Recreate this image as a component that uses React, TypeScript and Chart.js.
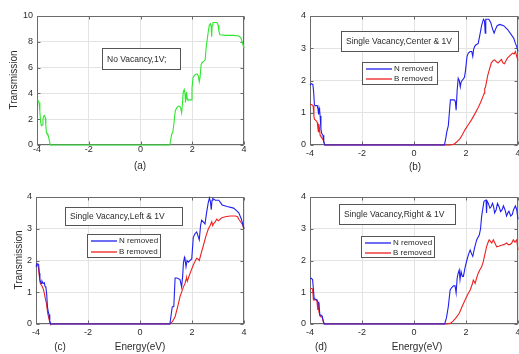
import { useEffect, useRef } from "react";
import { Chart, registerables } from "chart.js";

Chart.register(...registerables);

const PAGE_W = 519;
const PAGE_H = 354;
const FONT = '"Liberation Sans", Arial, Helvetica, sans-serif';
const TEXT_COLOR = "#2b2b2b";

// ---- Transmission spectra (energy in eV) ----

// (a) pristine ribbon, no vacancy
const energyA = [-4, -3.96, -3.92, -3.89, -3.86, -3.83, -3.8, -3.77, -3.74, -3.71, -3.68, -3.66, -3.64, -3.62, -3.58, -3.55, -3.52, -3.49, -3.47, 1.13, 1.16, 1.2, 1.25, 1.3, 1.34, 1.38, 1.45, 1.52, 1.56, 1.59, 1.62, 1.65, 1.69, 1.72, 1.74, 1.76, 1.78, 1.8, 1.83, 1.9, 1.96, 1.99, 2.03, 2.08, 2.15, 2.2, 2.24, 2.27, 2.3, 2.34, 2.38, 2.45, 2.5, 2.54, 2.58, 2.62, 2.66, 2.7, 2.73, 2.75, 2.77, 2.8, 2.85, 2.95, 3.0, 3.03, 3.07, 3.3, 3.6, 3.8, 3.88, 3.93, 4.0];
const transA = [3.5, 3.45, 3.3, 2.6, 1.8, 1.5, 1.55, 2.0, 2.25, 2.3, 2.1, 1.6, 1.0, 0.9, 0.85, 0.6, 0.3, 0.05, 0, 0, 0.3, 0.8, 1.0, 1.8, 2.6, 2.8, 3.0, 3.0, 2.8, 2.5, 3.2, 4.1, 4.3, 4.0, 3.3, 3.7, 4.1, 3.6, 3.5, 3.5, 3.5, 4.4, 5.2, 5.4, 5.5, 5.5, 5.3, 4.9, 5.2, 6.2, 6.4, 6.5, 6.6, 7.6, 8.2, 8.8, 9.3, 9.4, 9.2, 8.4, 9.3, 9.5, 9.5, 9.5, 9.3, 8.8, 8.55, 8.5, 8.5, 8.45, 8.3, 8.0, 7.5];

// (b) single vacancy at the centre
const energyBN = [-4, -3.95, -3.89, -3.86, -3.83, -3.79, -3.72, -3.69, -3.67, -3.65, -3.63, -3.61, -3.58, -3.55, -3.5, -3.47, -3.43, 1.17, 1.22, 1.26, 1.32, 1.36, 1.4, 1.47, 1.55, 1.59, 1.62, 1.66, 1.7, 1.74, 1.78, 1.81, 1.85, 1.9, 1.94, 1.98, 2.04, 2.09, 2.16, 2.22, 2.26, 2.29, 2.33, 2.38, 2.47, 2.53, 2.6, 2.67, 2.71, 2.74, 2.76, 2.8, 2.88, 2.95, 3.02, 3.08, 3.14, 3.2, 3.3, 3.45, 3.6, 3.76, 3.84, 3.9, 3.95, 4.0];
const transBN = [1.86, 1.9, 1.88, 1.65, 1.24, 1.22, 1.22, 1.1, 0.95, 1.15, 1.08, 0.9, 0.5, 0.36, 0.3, 0.1, 0, 0, 0.2, 0.4, 0.6, 1.0, 1.4, 1.4, 1.4, 1.35, 1.08, 1.7, 2.07, 2.0, 1.8, 1.95, 2.0, 2.05, 2.1, 2.3, 2.75, 2.85, 2.9, 2.9, 2.75, 2.95, 3.05, 3.1, 3.15, 3.4, 3.7, 3.9, 3.85, 3.47, 3.9, 3.9, 3.9, 3.8, 3.6, 3.47, 3.6, 3.7, 3.74, 3.7, 3.58, 3.4, 3.3, 3.15, 3.05, 2.9];
const energyBB = [-4, -3.93, -3.88, -3.85, -3.83, -3.76, -3.72, -3.7, -3.68, -3.66, -3.64, -3.61, -3.58, -3.52, -3.47, -3.43, 1.17, 1.4, 1.55, 1.65, 1.77, 1.86, 1.96, 2.08, 2.21, 2.33, 2.46, 2.56, 2.65, 2.7, 2.72, 2.75, 2.84, 2.97, 3.05, 3.1, 3.17, 3.23, 3.3, 3.36, 3.42, 3.48, 3.54, 3.6, 3.7, 3.79, 3.85, 3.9, 3.95, 4.0];
const transBB = [1.27, 1.25, 1.22, 0.9, 0.8, 0.75, 0.7, 0.55, 0.41, 0.65, 0.55, 0.3, 0.26, 0.2, 0.1, 0, 0, 0, 0.03, 0.1, 0.2, 0.32, 0.47, 0.62, 0.78, 0.95, 1.15, 1.32, 1.5, 1.6, 1.75, 1.8, 2.17, 2.54, 2.62, 2.64, 2.58, 2.54, 2.6, 2.65, 2.55, 2.52, 2.62, 2.7, 2.78, 2.85, 2.82, 2.9, 2.75, 2.62];

// (c) single vacancy on the left edge
const energyCN = [-4, -3.96, -3.9, -3.87, -3.85, -3.8, -3.77, -3.74, -3.71, -3.68, -3.65, -3.62, -3.59, -3.56, -3.53, -3.5, -3.47, -3.44, 1.15, 1.2, 1.24, 1.3, 1.35, 1.42, 1.54, 1.6, 1.64, 1.67, 1.71, 1.73, 1.77, 1.81, 1.86, 1.92, 1.99, 2.05, 2.12, 2.18, 2.24, 2.28, 2.33, 2.37, 2.45, 2.5, 2.56, 2.62, 2.67, 2.71, 2.74, 2.77, 2.8, 2.9, 3.03, 3.16, 3.35, 3.6, 3.7, 3.8, 3.9, 4.0];
const transCN = [1.8, 1.9, 1.88, 1.6, 1.39, 1.28, 1.35, 1.3, 1.28, 1.3, 1.18, 1.15, 0.95, 0.55, 0.39, 0.3, 0.1, 0, 0, 0.3, 0.54, 0.55, 1.45, 1.45, 1.4, 1.17, 1.5, 1.92, 2.1, 2.05, 1.8, 2.0, 1.95, 2.0, 2.05, 2.73, 2.85, 2.9, 2.75, 2.65, 3.1, 3.27, 3.2, 3.15, 3.5, 3.8, 3.97, 3.85, 3.6, 3.9, 3.95, 3.9, 3.9, 3.75, 3.7, 3.65, 3.58, 3.5, 3.3, 3.0];
const energyCB = [-4, -3.96, -3.91, -3.87, -3.84, -3.8, -3.76, -3.72, -3.68, -3.64, -3.6, -3.55, -3.5, -3.46, -3.44, 1.15, 1.25, 1.35, 1.45, 1.54, 1.62, 1.67, 1.73, 1.77, 1.79, 1.82, 1.86, 1.95, 2.05, 2.12, 2.18, 2.23, 2.28, 2.36, 2.44, 2.53, 2.63, 2.7, 2.76, 2.8, 2.82, 2.88, 2.95, 3.02, 3.08, 3.15, 3.28, 3.47, 3.67, 3.75, 3.8, 3.87, 3.93, 4.0];
const transCB = [1.86, 1.88, 1.8, 1.49, 1.3, 1.23, 1.18, 1.1, 0.97, 0.8, 0.65, 0.34, 0.15, 0.03, 0, 0, 0.08, 0.23, 0.55, 0.86, 1.05, 1.17, 1.27, 1.4, 1.45, 1.35, 1.45, 1.65, 1.86, 1.98, 2.07, 2.05, 2.0, 2.25, 2.48, 2.75, 3.0, 3.1, 3.22, 3.1, 3.15, 3.2, 3.3, 3.25, 3.3, 3.35, 3.38, 3.4, 3.4, 3.38, 3.3, 3.22, 3.15, 3.0];

// (d) single vacancy on the right edge
const energyDN = [-4, -3.95, -3.9, -3.87, -3.84, -3.78, -3.74, -3.7, -3.66, -3.62, -3.58, -3.53, -3.49, -3.45, 1.18, 1.25, 1.32, 1.39, 1.45, 1.52, 1.58, 1.62, 1.66, 1.7, 1.74, 1.77, 1.81, 1.86, 1.9, 1.97, 2.03, 2.1, 2.16, 2.22, 2.26, 2.33, 2.41, 2.51, 2.56, 2.6, 2.65, 2.69, 2.74, 2.77, 2.79, 2.81, 2.86, 2.92, 2.97, 3.02, 3.06, 3.1, 3.16, 3.21, 3.27, 3.33, 3.39, 3.44, 3.5, 3.56, 3.61, 3.65, 3.72, 3.78, 3.83, 3.9, 3.95, 4.0];
const transDN = [1.44, 1.44, 1.4, 1.1, 0.8, 0.78, 0.76, 0.7, 0.65, 0.28, 0.28, 0.25, 0.1, 0, 0, 0.2, 0.55, 1.07, 1.15, 1.2, 1.2, 0.98, 1.45, 1.6, 1.7, 1.4, 1.65, 1.5, 1.5, 1.8, 2.0, 2.2, 2.33, 2.2, 2.13, 2.4, 2.65, 2.8, 3.0, 3.38, 3.65, 3.86, 3.9, 3.9, 3.5, 3.88, 3.8, 3.65, 3.7, 3.8, 3.7, 3.5, 3.6, 3.8, 3.7, 3.54, 3.6, 3.72, 3.6, 3.4, 3.5, 3.55, 3.4, 3.45, 3.6, 3.72, 3.6, 3.3];
const energyDB = [-4, -3.94, -3.9, -3.87, -3.8, -3.74, -3.72, -3.7, -3.68, -3.66, -3.63, -3.6, -3.54, -3.5, -3.46, 1.2, 1.26, 1.4, 1.51, 1.62, 1.74, 1.85, 1.96, 2.06, 2.16, 2.24, 2.28, 2.32, 2.35, 2.41, 2.47, 2.53, 2.6, 2.66, 2.72, 2.79, 2.84, 2.89, 2.94, 2.99, 3.05, 3.11, 3.18, 3.26, 3.36, 3.46, 3.56, 3.63, 3.69, 3.76, 3.82, 3.88, 3.95, 4.0];
const transDB = [1.12, 1.12, 1.1, 0.76, 0.76, 0.76, 0.6, 0.44, 0.7, 0.4, 0.3, 0.23, 0.23, 0.1, 0, 0, 0, 0.02, 0.1, 0.2, 0.34, 0.55, 0.75, 0.92, 1.07, 1.25, 1.38, 1.33, 1.28, 1.45, 1.6, 1.7, 1.8, 1.95, 2.17, 2.43, 2.55, 2.65, 2.6, 2.55, 2.65, 2.55, 2.43, 2.45, 2.48, 2.5, 2.55, 2.5, 2.5, 2.55, 2.65, 2.58, 2.65, 2.33];

// axis settings
const energyRange = [-4, 4];
const energyStep = 2;
const seriesLabels = ["N removed", "B removed"];

type Series = { label: string; color: string; energy: number[]; trans: number[] };
type Box = { x: number; y: number; w: number; h: number };
type Caption = { text: string; x: number; y: number };
type Panel = {
  area: { l: number; t: number; r: number; b: number };
  yMax: number;
  yStep: number;
  xTickPad: number;
  series: Series[];
  note: Box & { text: string };
  legend?: Box;
  yTitle?: { x: number; y: number };
  captions: Caption[];
};

const BLUE = "#2020ee";
const RED = "#ee2020";
const GREEN = "#2ee62e";

const panels: Panel[] = [
  {
    area: { l: 37, t: 16, r: 244, b: 145 },
    yMax: 10,
    yStep: 2,
    xTickPad: 0,
    series: [{ label: "No Vacancy", color: GREEN, energy: energyA, trans: transA }],
    note: { text: "No Vacancy,1V;", x: 102, y: 48, w: 79, h: 22 },
    yTitle: { x: 14, y: 80 },
    captions: [{ text: "(a)", x: 140, y: 166 }],
  },
  {
    area: { l: 310, t: 16, r: 518, b: 145 },
    yMax: 4,
    yStep: 1,
    xTickPad: 4.5,
    series: [
      { label: seriesLabels[0], color: BLUE, energy: energyBN, trans: transBN },
      { label: seriesLabels[1], color: RED, energy: energyBB, trans: transBB },
    ],
    note: { text: "Single Vacancy,Center & 1V", x: 341, y: 31, w: 118, h: 21 },
    legend: { x: 362, y: 62, w: 76, h: 23 },
    captions: [{ text: "(b)", x: 415, y: 167 }],
  },
  {
    area: { l: 36, t: 197, r: 244, b: 324 },
    yMax: 4,
    yStep: 1,
    xTickPad: 4.5,
    series: [
      { label: seriesLabels[0], color: BLUE, energy: energyCN, trans: transCN },
      { label: seriesLabels[1], color: RED, energy: energyCB, trans: transCB },
    ],
    note: { text: "Single Vacancy,Left & 1V", x: 65, y: 207, w: 118, h: 19 },
    legend: { x: 87, y: 234, w: 74, h: 24 },
    yTitle: { x: 19, y: 260 },
    captions: [
      { text: "(c)", x: 60, y: 347 },
      { text: "Energy(eV)", x: 140, y: 347 },
    ],
  },
  {
    area: { l: 310, t: 197, r: 518, b: 324 },
    yMax: 4,
    yStep: 1,
    xTickPad: 4.5,
    series: [
      { label: seriesLabels[0], color: BLUE, energy: energyDN, trans: transDN },
      { label: seriesLabels[1], color: RED, energy: energyDB, trans: transDB },
    ],
    note: { text: "Single Vacancy,Right & 1V", x: 339, y: 204, w: 117, h: 21 },
    legend: { x: 361, y: 236, w: 74, h: 22 },
    captions: [
      { text: "(d)", x: 321, y: 347 },
      { text: "Energy(eV)", x: 417, y: 347 },
    ],
  },
];

const Y_AXIS_W = 30;
const X_AXIS_H = 20;

function decorations(panel: Panel) {
  return {
    id: "panelDecor",
    beforeDatasetsDraw(chart: any) {
      const ctx = chart.ctx as CanvasRenderingContext2D;
      const { left, top, right, bottom } = chart.chartArea;
      const L = Math.round(left) + 0.5;
      const T = Math.round(top) + 0.5;
      const R = Math.round(right) - 0.5;
      const B = Math.round(bottom) - 0.5;
      ctx.save();
      ctx.strokeStyle = "#6a6a6a";
      ctx.lineWidth = 1;
      ctx.strokeRect(L, T, R - L, B - T);
      // inward tick marks on all four sides
      const tl = 3;
      ctx.beginPath();
      const xs = chart.scales.x;
      for (const t of xs.ticks) {
        const px = Math.round(xs.getPixelForValue(t.value)) + 0.5;
        ctx.moveTo(px, B);
        ctx.lineTo(px, B - tl);
        ctx.moveTo(px, T);
        ctx.lineTo(px, T + tl);
      }
      const ys = chart.scales.y;
      for (const t of ys.ticks) {
        const py = Math.round(ys.getPixelForValue(t.value)) + 0.5;
        ctx.moveTo(L, py);
        ctx.lineTo(L + tl, py);
        ctx.moveTo(R, py);
        ctx.lineTo(R - tl, py);
      }
      ctx.stroke();
      ctx.restore();
    },
    afterDraw(chart: any) {
      const ctx = chart.ctx as CanvasRenderingContext2D;
      ctx.save();
      // annotation text box
      const n = panel.note;
      ctx.fillStyle = "#ffffff";
      ctx.fillRect(n.x, n.y, n.w, n.h);
      ctx.strokeStyle = "#555555";
      ctx.lineWidth = 1;
      ctx.strokeRect(n.x + 0.5, n.y + 0.5, n.w - 1, n.h - 1);
      ctx.fillStyle = TEXT_COLOR;
      ctx.font = `8.5px ${FONT}`;
      ctx.textAlign = "left";
      ctx.textBaseline = "middle";
      ctx.fillText(n.text, n.x + 5, n.y + n.h / 2 + 0.5);

      // legend built from the plotted series
      if (panel.legend) {
        const lg = panel.legend;
        ctx.fillStyle = "#ffffff";
        ctx.fillRect(lg.x, lg.y, lg.w, lg.h);
        ctx.strokeStyle = "#555555";
        ctx.lineWidth = 1;
        ctx.strokeRect(lg.x + 0.5, lg.y + 0.5, lg.w - 1, lg.h - 1);
        const rows = [0.3, 0.75];
        panel.series.forEach((s, i) => {
          const y = Math.round(lg.y + lg.h * rows[i]);
          ctx.beginPath();
          ctx.strokeStyle = s.color;
          ctx.lineWidth = 1.3;
          ctx.moveTo(lg.x + 4, y);
          ctx.lineTo(lg.x + 30, y);
          ctx.stroke();
          ctx.fillStyle = TEXT_COLOR;
          ctx.font = `8px ${FONT}`;
          ctx.textAlign = "left";
          ctx.textBaseline = "middle";
          ctx.fillText(s.label, lg.x + 32, y);
        });
      }

      // axis titles and captions
      ctx.fillStyle = TEXT_COLOR;
      ctx.font = `10px ${FONT}`;
      ctx.textAlign = "center";
      ctx.textBaseline = "middle";
      for (const c of panel.captions) ctx.fillText(c.text, c.x, c.y);
      if (panel.yTitle) {
        ctx.translate(panel.yTitle.x, panel.yTitle.y);
        ctx.rotate(-Math.PI / 2);
        ctx.fillText("Transmission", 0, 0);
      }
      ctx.restore();
    },
  };
}

function PanelChart({ panel }: { panel: Panel }) {
  const ref = useRef<HTMLCanvasElement | null>(null);
  useEffect(() => {
    if (!ref.current) return;
    const a = panel.area;
    const chart = new Chart(ref.current, {
      type: "line",
      data: {
        datasets: panel.series.map((s) => ({
          label: s.label,
          data: s.energy.map((e, i) => ({ x: e, y: s.trans[i] })),
          borderColor: s.color,
          backgroundColor: s.color,
          borderWidth: 1.1,
          pointRadius: 0,
          tension: 0,
          fill: false,
          clip: false as any,
        })),
      },
      options: {
        responsive: false,
        animation: false,
        events: [],
        layout: {
          padding: {
            left: a.l - Y_AXIS_W,
            top: a.t,
            right: PAGE_W - a.r,
            bottom: PAGE_H - a.b - X_AXIS_H,
          },
        },
        plugins: { legend: { display: false }, tooltip: { enabled: false } },
        scales: {
          x: {
            type: "linear",
            min: energyRange[0],
            max: energyRange[1],
            ticks: {
              stepSize: energyStep,
              padding: panel.xTickPad,
              color: TEXT_COLOR,
              font: { family: FONT, size: 9, lineHeight: 1 },
              maxRotation: 0,
            },
            grid: { color: "#e3e3e3", drawTicks: false },
            border: { display: false },
            afterFit: (s: any) => {
              s.height = X_AXIS_H;
              s.paddingLeft = 0;
              s.paddingRight = 0;
            },
          },
          y: {
            type: "linear",
            min: 0,
            max: panel.yMax,
            ticks: {
              stepSize: panel.yStep,
              padding: 4,
              color: TEXT_COLOR,
              font: { family: FONT, size: 9, lineHeight: 1 },
            },
            grid: { color: "#e3e3e3", drawTicks: false },
            border: { display: false },
            afterFit: (s: any) => {
              s.width = Y_AXIS_W;
              s.paddingTop = 0;
              s.paddingBottom = 0;
            },
          },
        },
      } as any,
      plugins: [decorations(panel)],
    });
    return () => chart.destroy();
  }, [panel]);
  return (
    <canvas
      ref={ref}
      width={PAGE_W}
      height={PAGE_H}
      style={{ position: "absolute", left: 0, top: 0, width: PAGE_W, height: PAGE_H }}
    />
  );
}

export default function App() {
  return (
    <div
      style={{
        position: "fixed",
        left: 0,
        top: 0,
        width: PAGE_W,
        height: PAGE_H,
        background: "#ffffff",
        overflow: "hidden",
      }}
    >
      {panels.map((p, i) => (
        <PanelChart key={i} panel={p} />
      ))}
    </div>
  );
}
